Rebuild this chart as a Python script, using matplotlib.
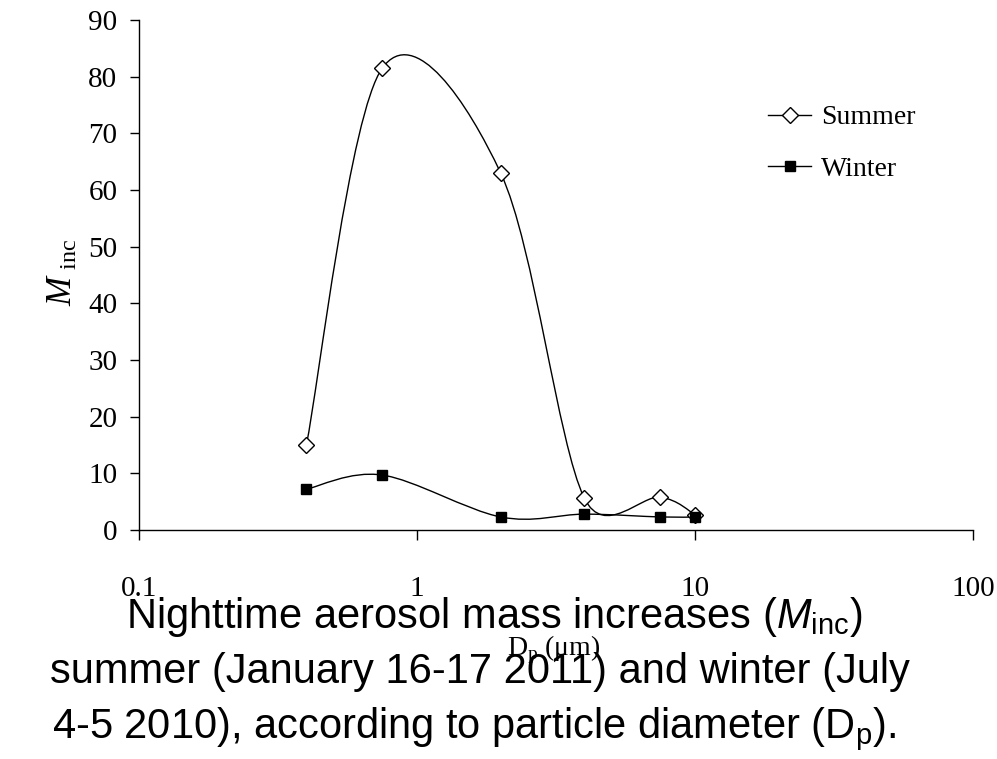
import matplotlib
matplotlib.use('agg')
import matplotlib.pyplot as plt
import numpy as np
from matplotlib.path import Path
from matplotlib.patches import PathPatch
from matplotlib.lines import Line2D

# values
dp = [0.4, 0.75, 2, 4, 7.5, 10]
summer = [15, 81.5, 63, 5.6, 5.8, 2.7]
winter = [7.2, 9.7, 2.3, 2.8, 2.3, 2.3]
series_names = ['Summer', 'Winter']
xticks = [0.1, 1, 10, 100]
xtick_labels = ['0.1', '1', '10', '100']
yticks = [0, 10, 20, 30, 40, 50, 60, 70, 80, 90]
caption_lines = [
    r'Nighttime aerosol mass increases ($\mathit{M}_{\mathsf{inc}}$)',
    'summer (January 16-17 2011) and winter (July',
    r'4-5 2010), according to particle diameter (D$_{\mathsf{p}}$).',
]

serif = ['Liberation Serif', 'DejaVu Serif']
sans = ['Liberation Sans', 'DejaVu Sans']

plt.rcParams['mathtext.fontset'] = 'custom'
plt.rcParams['mathtext.rm'] = 'Liberation Serif'
plt.rcParams['mathtext.bf'] = 'Liberation Serif:italic'
plt.rcParams['mathtext.it'] = 'Liberation Sans:italic'
plt.rcParams['mathtext.sf'] = 'Liberation Sans'

W, H = 997, 759
fig = plt.figure(figsize=(W / 100, H / 100), dpi=100)
ax = fig.add_axes([139 / W, 1 - 530 / H, (973 - 139) / W, (530 - 20) / H])

ax.set_xscale('log')
ax.set_xlim(0.1, 100)
ax.set_ylim(0, 90)
ax.set_xticks(xticks)
ax.set_xticklabels(xtick_labels)
ax.xaxis.set_minor_locator(matplotlib.ticker.NullLocator())
ax.set_yticks(yticks)
for s in ['top', 'right']:
    ax.spines[s].set_visible(False)
for s in ['left', 'bottom']:
    ax.spines[s].set_linewidth(1.0)
ax.tick_params(axis='y', direction='out', length=6.5, width=1.0, pad=9)
ax.tick_params(axis='x', direction='out', length=7, width=1.0, pad=26)
for lab in ax.get_xticklabels() + ax.get_yticklabels():
    lab.set_family(serif)
    lab.set_fontsize(21)


def smooth_path(xs, ys, tension=1 / 6, cap=0.6):
    # Excel-like smoothed line: bezier segments built in screen space
    pts = ax.transData.transform(np.column_stack([xs, ys]))
    n = len(pts)
    verts = [pts[0]]
    codes = [Path.MOVETO]
    for i in range(n - 1):
        p0 = pts[i - 1] if i > 0 else pts[i]
        p1 = pts[i]
        p2 = pts[i + 1]
        p3 = pts[i + 2] if i + 2 < n else pts[i + 1]
        d12 = np.hypot(*(p2 - p1))
        v1 = (p2 - p0) * tension
        v2 = (p3 - p1) * tension
        l1 = np.hypot(*v1)
        l2 = np.hypot(*v2)
        if l1 > cap * d12:
            v1 = v1 * cap * d12 / l1
        if l2 > cap * d12:
            v2 = v2 * cap * d12 / l2
        verts += [p1 + v1, p2 - v2, p2]
        codes += [Path.CURVE4] * 3
    verts = ax.transData.inverted().transform(np.array(verts))
    return Path(verts, codes)


styles = [
    dict(marker='D', markersize=8, markerfacecolor='white', markeredgecolor='black', markeredgewidth=1.0),
    dict(marker='s', markersize=7.5, markerfacecolor='black', markeredgecolor='black', markeredgewidth=1.0),
]
handles = []
for vals, st, name in zip([summer, winter], styles, series_names):
    ax.add_patch(PathPatch(smooth_path(dp, vals), facecolor='none', edgecolor='black', lw=1.0, zorder=2))
    ax.plot(dp, vals, linestyle='none', zorder=3, clip_on=False, **st)
    handles.append(Line2D([], [], color='black', lw=1.0, **st))

leg = fig.legend(handles, series_names, loc='center left', bbox_to_anchor=(768 / W, 1 - 143.5 / H),
                 frameon=False, handlelength=1.55, handletextpad=0.35, labelspacing=0.95,
                 borderpad=0, borderaxespad=0, prop={'family': serif, 'size': 20}, numpoints=1)

fig.text(62 / W, 1 - 272 / H, r'$\mathbf{M}_{\ \mathrm{inc}}$', rotation=90, ha='center', va='center',
         fontsize=25, family=serif)
fig.text(554 / W, 1 - 655 / H, r'D$_{\mathrm{p}}$ (μm)', ha='center', va='baseline',
         fontsize=20, family=serif)

cap_x = [494, 480, 474]
cap_y = [628, 683, 738]
for line, cx, cy in zip(caption_lines, cap_x, cap_y):
    fig.text(cx / W, 1 - cy / H, line, ha='center', va='baseline', fontsize=30, family=sans)

fig.savefig('out.png', dpi=100)
